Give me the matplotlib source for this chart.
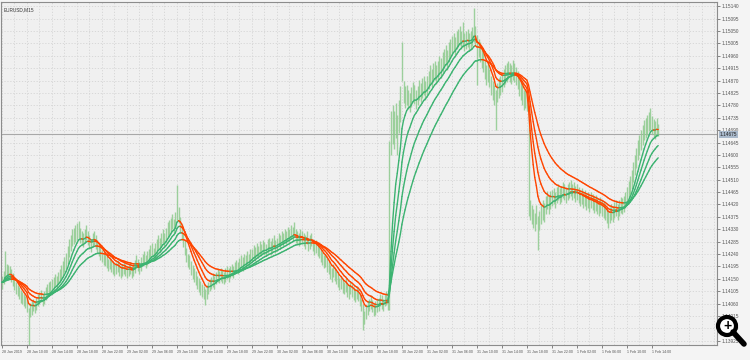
import numpy as np
import matplotlib
matplotlib.use("Agg")
from matplotlib import pyplot as plt
from matplotlib import transforms
from matplotlib.collections import LineCollection

plt.rcParams["font.family"] = ["Liberation Sans", "DejaVu Sans"]

# EURUSD M15, 28 Jan 06:00 .. 1 Feb 15:00, prices in points above 1.14000
BASE = 1.14
POINT = 0.00001
high_pts = [
    160, 178, 250, 205, 200, 198, 186, 170, 152, 140, 128, 120, 110, 102, 95, 88,
    78, 45, 62, 68, 78, 70, 85, 95, 102, 110, 96, 105, 120, 130, 138, 142,
    150, 158, 168, 160, 176, 185, 200, 215, 228, 245, 270, 295, 310, 330, 335, 345,
    352, 360, 335, 322, 315, 330, 345, 325, 308, 296, 318, 325, 308, 292, 278, 268,
    255, 248, 240, 234, 222, 230, 218, 212, 205, 212, 220, 205, 198, 205, 212, 205,
    198, 205, 212, 198, 205, 220, 235, 222, 212, 228, 242, 250, 235, 250, 260, 272,
    280, 262, 280, 295, 310, 298, 318, 332, 315, 335, 355, 362, 372, 385, 368, 392,
    490, 410, 375, 348, 318, 290, 262, 242, 236, 214, 200, 188, 178, 162, 152, 142,
    132, 125, 115, 126, 140, 150, 158, 170, 162, 176, 188, 180, 190, 184, 176, 188,
    195, 188, 198, 205, 198, 212, 220, 212, 224, 235, 228, 242, 235, 250, 242, 258,
    260, 272, 264, 280, 270, 286, 278, 292, 285, 278, 294, 300, 286, 298, 310, 292,
    300, 315, 308, 322, 315, 330, 322, 338, 330, 345, 338, 355, 330, 322, 315, 330,
    322, 315, 308, 322, 300, 308, 315, 296, 285, 292, 278, 270, 260, 248, 235, 242,
    225, 212, 200, 188, 205, 190, 178, 170, 155, 162, 148, 140, 152, 132, 126, 140,
    132, 122, 112, 125, 115, 96, 78, 60, 32, 54, 68, 78, 90, 75, 60, 68,
    75, 82, 96, 90, 78, 96, 105, 88, 650, 760, 780, 760, 790, 745, 800, 850,
    1010, 870, 850, 855, 835, 825, 845, 865, 855, 835, 850, 872, 862, 878, 888, 870,
    888, 905, 925, 912, 935, 942, 928, 942, 960, 950, 972, 985, 998, 980, 1008, 1022,
    1032, 1042, 1028, 1050, 1058, 1068, 1050, 1082, 1044, 1050, 1058, 1044, 1050, 1065, 1133, 1068,
    1035, 1022, 1008, 985, 972, 942, 925, 935, 912, 888, 870, 852, 834, 862, 878, 888,
    898, 912, 928, 935, 942, 935, 928, 945, 935, 920, 906, 884, 870, 852, 834, 840,
    826, 770, 435, 418, 405, 390, 418, 380, 398, 418, 435, 426, 452, 470, 452, 470,
    472, 480, 465, 482, 494, 480, 486, 500, 494, 482, 494, 500, 510, 494, 500, 486,
    494, 482, 472, 480, 465, 472, 458, 465, 450, 465, 458, 446, 454, 442, 436, 446,
    436, 428, 420, 410, 400, 410, 420, 414, 428, 436, 420, 436, 446, 442, 450, 465,
    485, 505, 525, 545, 575, 600, 625, 655, 672, 690, 708, 726, 735, 745, 755, 770,
    740, 730, 722, 735, 712,
]
low_pts = [
    115, 130, 150, 150, 160, 152, 140, 124, 108, 95, 88, 76, 64, 58, 50, 44,
    30, -90, 12, 20, 32, 25, 38, 50, 58, 65, 50, 60, 75, 88, 95, 98,
    105, 112, 124, 115, 130, 138, 150, 160, 175, 185, 205, 230, 250, 270, 278, 285,
    290, 298, 282, 272, 265, 280, 290, 272, 258, 248, 265, 272, 258, 245, 232, 220,
    210, 202, 195, 188, 178, 185, 174, 166, 160, 166, 174, 160, 152, 160, 166, 160,
    152, 160, 166, 152, 160, 172, 188, 178, 166, 180, 195, 202, 188, 202, 212, 224,
    230, 216, 230, 244, 258, 248, 265, 280, 266, 284, 300, 308, 318, 330, 316, 336,
    365, 352, 318, 292, 265, 235, 210, 194, 186, 164, 150, 140, 128, 114, 104, 92,
    86, 78, 55, 78, 94, 105, 112, 122, 115, 130, 140, 134, 144, 136, 130, 140,
    148, 140, 152, 160, 152, 166, 172, 166, 176, 188, 180, 195, 188, 200, 194, 208,
    212, 222, 216, 230, 224, 238, 232, 245, 238, 232, 245, 252, 238, 248, 260, 245,
    252, 268, 260, 275, 268, 280, 275, 288, 280, 296, 288, 302, 280, 275, 268, 280,
    275, 268, 260, 275, 252, 260, 268, 250, 238, 245, 232, 224, 212, 200, 188, 194,
    176, 166, 150, 140, 158, 144, 130, 122, 108, 115, 100, 94, 104, 86, 78, 94,
    86, 75, 65, 78, 68, 50, 32, -36, -15, 6, 20, 32, 42, 28, 14, 20,
    28, 35, 50, 42, 32, 50, 56, 38, 37, 600, 640, 620, 660, 600, 680, 720,
    870, 790, 770, 780, 765, 755, 775, 795, 785, 765, 780, 800, 792, 808, 818, 800,
    818, 838, 855, 845, 866, 872, 858, 872, 890, 880, 902, 916, 926, 908, 938, 952,
    966, 976, 962, 984, 990, 1000, 984, 990, 976, 984, 990, 976, 984, 996, 1010, 1000,
    853, 954, 938, 916, 902, 874, 855, 866, 845, 818, 800, 782, 690, 792, 808, 818,
    830, 845, 858, 866, 874, 866, 858, 872, 866, 852, 838, 815, 800, 782, 764, 772,
    758, 380, 365, 348, 336, 322, 348, 255, 328, 348, 365, 358, 384, 402, 384, 402,
    414, 422, 408, 426, 436, 422, 430, 444, 436, 426, 436, 444, 450, 436, 444, 430,
    436, 426, 414, 422, 408, 414, 400, 408, 392, 408, 400, 390, 396, 386, 378, 390,
    378, 372, 364, 354, 334, 354, 364, 356, 372, 378, 364, 378, 390, 386, 392, 408,
    425, 440, 458, 475, 502, 528, 552, 582, 600, 618, 636, 655, 662, 672, 685, 692,
    676, 665, 658, 668, 668,
]
time_labels = ["28 Jan 2019", "28 Jan 10:00", "28 Jan 14:00", "28 Jan 18:00", "28 Jan 22:00",
               "29 Jan 02:00", "29 Jan 06:00", "29 Jan 10:00", "29 Jan 14:00", "29 Jan 18:00",
               "29 Jan 22:00", "30 Jan 02:00", "30 Jan 06:00", "30 Jan 10:00", "30 Jan 14:00",
               "30 Jan 18:00", "30 Jan 22:00", "31 Jan 02:00", "31 Jan 06:00", "31 Jan 10:00",
               "31 Jan 14:00", "31 Jan 18:00", "31 Jan 22:00", "1 Feb 02:00", "1 Feb 06:00",
               "1 Feb 10:00", "1 Feb 14:00"]
ma_periods = [8, 13, 21, 34]
last_price = 1.14675
symbol = "EURUSD,M15"

high = BASE + np.array(high_pts) * POINT
low = BASE + np.array(low_pts) * POINT
median = (high + low) / 2
x = np.arange(len(high))

fig = plt.figure(figsize=(7.5, 3.6), dpi=100, facecolor="#f4f4f4")
ax = fig.add_axes([1 / 750, 15 / 360, 716 / 750, 343 / 360])
ax.set_facecolor("#f0f0f0")

px_per_bar = 1.5625
ax.set_xlim(-0.6, -0.6 + 716 / px_per_bar)
ax.set_ylim(1.13910, 1.15155)

# grid: vertical every 2h (8 bars), horizontal every 45 points
for gx in range(0, 460, 8):
    ax.axvline(gx, color="#d4d4d4", lw=0.6, ls=(0, (1.5, 2)), zorder=0)
price_ticks = 1.15140 - 0.00045 * np.arange(28)
for gy in price_ticks:
    ax.axhline(gy, color="#d4d4d4", lw=0.6, ls=(0, (1.5, 2)), zorder=0)

ax.vlines(x, low, high, color="#8fcb8f", lw=1.0, alpha=0.85, zorder=2)

ax.axhline(last_price, color="#a8a8a8", lw=0.8, zorder=1)

green, red = "#3cb371", "#ff4500"
for n in ma_periods:
    a = 2 / (n + 1)
    ema = np.empty_like(median)
    ema[0] = median[0]
    for i in range(1, len(median)):
        ema[i] = a * median[i] + (1 - a) * ema[i - 1]
    segs = np.stack([np.column_stack([x[:-1], ema[:-1]]), np.column_stack([x[1:], ema[1:]])], axis=1)
    cols = [red if ema[i + 1] < ema[i] else green for i in range(len(ema) - 1)]
    ax.add_collection(LineCollection(segs, colors=cols, lw=1.0, zorder=3, capstyle="round"))

for s in ax.spines.values():
    s.set_color("#8c8c8c")
    s.set_linewidth(0.8)

ax.yaxis.tick_right()
ax.set_yticks(price_ticks)
ax.set_yticklabels([f"{p:.5f}" for p in price_ticks])
ax.tick_params(axis="y", labelsize=3.4, colors="#555555", length=2, width=0.5, pad=1.5)

ax.set_xticks(np.arange(0, 417, 16))
ax.set_xticklabels(time_labels)
ax.tick_params(axis="x", labelsize=2.6, colors="#555555", length=2, width=0.5, pad=1.5)
for t in ax.get_xticklabels():
    t.set_horizontalalignment("left")

ax.text(0.004, 0.985, symbol, transform=ax.transAxes, fontsize=3.4, color="#333333", va="top")

trans = transforms.blended_transform_factory(ax.transAxes, ax.transData)
ax.text(1.004, last_price, f"{last_price:.5f}", transform=trans, fontsize=3.4, color="#222222",
        va="center", ha="left", bbox=dict(boxstyle="square,pad=0.2", fc="#a9b9cb", ec="none"))

# zoom icon overlay in the corner
fig.patches.append(plt.Circle((727, 34), 9, transform=None, fc="white", ec="black", lw=3.0))
fig.add_artist(plt.Line2D([733, 744], [28, 16], transform=None, color="black", lw=4, solid_capstyle="round"))
fig.text(727 / 750, 34 / 360, "+", fontsize=10, fontweight="bold", ha="center", va="center")

fig.savefig("out.png", dpi=100, facecolor=fig.get_facecolor())
